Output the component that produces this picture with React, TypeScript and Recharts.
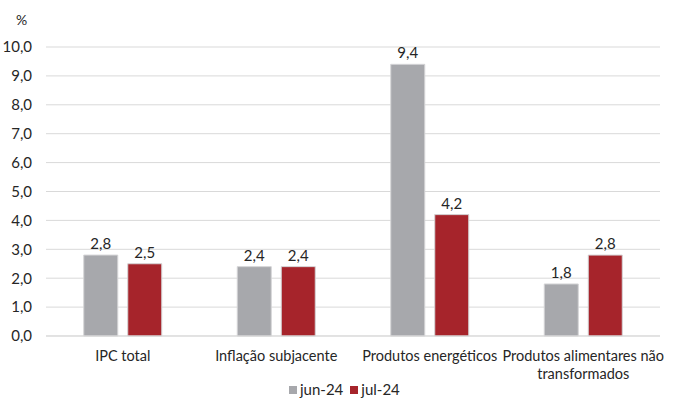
import { BarChart, Bar, XAxis, YAxis, CartesianGrid, Legend, LabelList } from 'recharts';

const categories = ['IPC total', 'Inflação subjacente', 'Produtos energéticos', 'Produtos alimentares não\ntransformados'];
const jun24 = [2.8, 2.4, 9.4, 1.8];
const jul24 = [2.5, 2.4, 4.2, 2.8];
const yTicks = [0, 1, 2, 3, 4, 5, 6, 7, 8, 9, 10];

const data = categories.map((name, i) => ({ name, jun: jun24[i], jul: jul24[i] }));

const FONT = 'Lato, "Open Sans", sans-serif';
const TEXT = '#262626';
const GRAY = '#a7a8ac';
const RED = '#a6242b';

const fmt = (v: number) => v.toFixed(1).replace('.', ',');

function CategoryTick({ x, y, payload }: any) {
  const lines = String(payload.value).split('\n');
  return (
    <text x={x} y={y} textAnchor="middle" fill={TEXT} fontSize={14.5} fontFamily={FONT}>
      {lines.map((l, i) => (
        <tspan key={i} x={x} dy={i === 0 ? 17 : 18}>{l}</tspan>
      ))}
    </text>
  );
}

function LegendContent() {
  const items = [
    { label: 'jun-24', color: GRAY },
    { label: 'jul-24', color: RED },
  ];
  return (
    <div style={{ display: 'flex', justifyContent: 'flex-start', paddingLeft: 289, gap: 7, fontFamily: FONT, fontSize: 15, lineHeight: '17px', color: TEXT }}>
      {items.map((it) => (
        <div key={it.label} style={{ display: 'flex', alignItems: 'center', gap: 3 }}>
          <span style={{ width: 8, height: 8, background: it.color, display: 'inline-block' }} />
          <span>{it.label}</span>
        </div>
      ))}
    </div>
  );
}

export default function App() {
  return (
    <div style={{ position: 'absolute', left: 0, top: 0, width: 676, height: 399, background: '#fff' }}>
      <div style={{ position: 'absolute', left: 16, top: 11, fontFamily: FONT, fontSize: 14, color: TEXT }}>%</div>
      <BarChart
        width={676}
        height={399}
        data={data}
        margin={{ top: 47, right: 16, left: 0, bottom: 0 }}
        barCategoryGap="24.6%"
        barGap={10}
      >
        <CartesianGrid vertical={false} stroke="#d9d9d9" />
        <XAxis
          dataKey="name"
          tick={<CategoryTick />}
          tickLine={false}
          axisLine={{ stroke: '#d9d9d9' }}
          interval={0}
          height={45}
        />
        <YAxis
          width={46}
          domain={[0, 10]}
          ticks={yTicks}
          tickFormatter={fmt}
          tickLine={false}
          axisLine={false}
          tick={{ fill: TEXT, fontSize: 15, fontFamily: FONT }}
          tickMargin={8}
        />
        <Legend verticalAlign="bottom" height={18} content={<LegendContent />} />
        <Bar dataKey="jun" name="jun-24" fill={GRAY} stroke="#d4d4d6" strokeWidth={1} isAnimationActive={false}>
          <LabelList dataKey="jun" position="top" formatter={(v: any) => fmt(Number(v))} fill={TEXT} fontSize={15} fontFamily={FONT} offset={6} />
        </Bar>
        <Bar dataKey="jul" name="jul-24" fill={RED} stroke="#d4d4d6" strokeWidth={1} isAnimationActive={false}>
          <LabelList dataKey="jul" position="top" formatter={(v: any) => fmt(Number(v))} fill={TEXT} fontSize={15} fontFamily={FONT} offset={6} />
        </Bar>
      </BarChart>
    </div>
  );
}
